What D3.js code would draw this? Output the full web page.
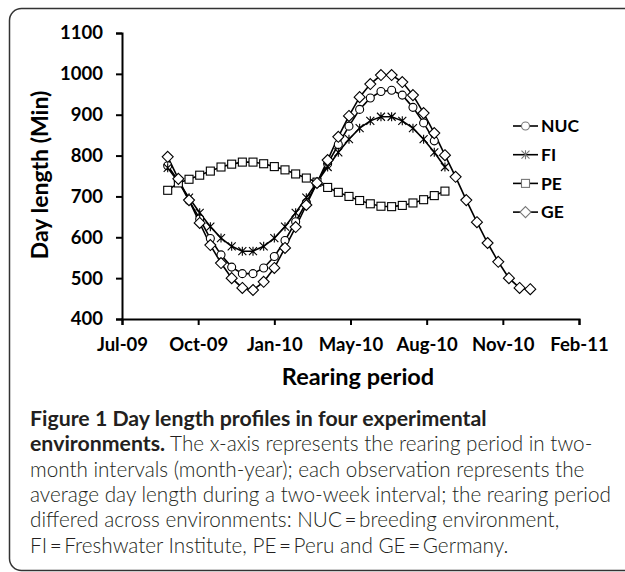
<!DOCTYPE html>
<html>
<head>
<meta charset="utf-8">
<script src="https://cdn.jsdelivr.net/npm/d3@7"></script>
<style>
  body { margin: 0; background: #fff; }
  svg { display: block; }
</style>
</head>
<body>
<svg id="chart" width="625" height="572"></svg>
<script>
// series names and start dates (one observation every two weeks)
var seriesNames = ["NUC", "FI", "PE", "GE"];
var seriesStart = "2009-09-04";

var nucValues = [775, 738, 690, 645, 597, 557, 527, 511, 511, 525, 553, 592, 638,
                 685, 733, 780, 827, 872, 913, 941, 957, 960, 948, 918, 880, 836];
var fiValues = [770, 735, 697, 660, 626, 598, 578, 566, 566, 578, 598, 626, 660, 697,
                735, 772, 808, 840, 867, 885, 895, 895, 885, 867, 840, 808, 772];
var peValues = [715, 733, 742, 752, 762, 772, 779, 784, 784, 780, 773, 765, 755, 745,
                735, 722, 710, 700, 690, 682, 676, 675, 678, 684, 692, 702, 713];
var geValues = [797, 743, 691, 635, 581, 537, 500, 476, 471, 491, 525, 574, 625, 679,
                733, 789, 846, 897, 943, 975, 997, 997, 980, 948, 904, 855, 801, 748,
                691, 637, 586, 540, 500, 476, 473];

var yTicks = [400, 500, 600, 700, 800, 900, 1000, 1100];
// excel serial 40000..40600 step 100
var xTickDates = ["2009-07-06", "2009-10-14", "2010-01-22", "2010-05-02",
                  "2010-08-10", "2010-11-18", "2011-02-26"];

var captionLines = [
  [["Figure 1 Day length profiles in four experimental", true]],
  [["environments.", true], [" The x-axis represents the rearing period in two-", false]],
  [["month intervals (month-year); each observation represents the", false]],
  [["average day length during a two-week interval; the rearing period", false]],
  [["differed across environments: NUC\u2009=\u2009breeding environment,", false]],
  [["FI\u2009=\u2009Freshwater Institute, PE\u2009=\u2009Peru and GE\u2009=\u2009Germany.", false]]
];

var parse = d3.utcParse("%Y-%m-%d");
var startDate = parse(seriesStart);
function toPoints(vals) {
  return vals.map(function(v, i) {
    return { date: d3.utcDay.offset(startDate, i * 14), value: v };
  });
}
var data = [nucValues, fiValues, peValues, geValues].map(toPoints);
var shapes = ["circle", "star", "square", "diamond"];

var svg = d3.select("#chart");
var chartFont = "Lato, 'DejaVu Sans', sans-serif";

// frame around figure
svg.append("rect")
    .attr("x", 9.5).attr("y", 8.5)
    .attr("width", 650).attr("height", 562)
    .attr("rx", 12)
    .attr("fill", "none")
    .attr("stroke", "#333")
    .attr("stroke-width", 1.5);

var xScale = d3.scaleUtc()
    .domain([parse(xTickDates[0]), parse(xTickDates[xTickDates.length - 1])])
    .range([122, 579]);

var yScale = d3.scaleLinear()
    .domain([400, 1100])
    .range([319, 33]);

var xAxis = d3.axisBottom(xScale)
    .tickValues(xTickDates.map(parse))
    .tickFormat(d3.utcFormat("%b-%y"))
    .tickSize(6)
    .tickPadding(13);

var yAxis = d3.axisLeft(yScale)
    .tickValues(yTicks)
    .tickFormat(d3.format("d"))
    .tickSize(6)
    .tickPadding(13);

var gx = svg.append("g")
    .attr("transform", "translate(0," + yScale(400) + ")")
    .call(xAxis);
var gy = svg.append("g")
    .attr("transform", "translate(" + xScale.range()[0] + ",0)")
    .call(yAxis);

[gx, gy].forEach(function(g) {
  g.select(".domain").attr("stroke", "#000").attr("stroke-width", 2);
  g.selectAll(".tick line").attr("stroke", "#000").attr("stroke-width", 2);
  g.selectAll("text")
    .attr("fill", "#000")
    .style("font-family", chartFont)
    .style("font-weight", 700)
    .style("font-size", "18.5px");
});

// axis titles
svg.append("text")
    .attr("transform", "translate(48,175) rotate(-90)")
    .attr("text-anchor", "middle")
    .style("font-family", chartFont)
    .style("font-weight", 700)
    .style("font-size", "23px")
    .text("Day length (Min)");

svg.append("text")
    .attr("x", 358).attr("y", 385)
    .attr("text-anchor", "middle")
    .style("font-family", chartFont)
    .style("font-weight", 700)
    .style("font-size", "23.5px")
    .text("Rearing period");

var line = d3.line()
    .x(function(d) { return xScale(d.date); })
    .y(function(d) { return yScale(d.value); });

function drawMarker(g, shape) {
  if (shape === "circle") {
    g.append("circle").attr("r", 4);
  } else if (shape === "square") {
    g.append("rect").attr("x", -4).attr("y", -4).attr("width", 8).attr("height", 8);
  } else if (shape === "diamond") {
    g.append("path").attr("d", "M0,-5.5L5.5,0L0,5.5L-5.5,0Z");
  } else {
    g.append("path").attr("d", "M-4,-4L4,4M-4,4L4,-4M0,-4.5L0,4.5");
  }
  g.attr("fill", "#fff").attr("stroke", "#000").attr("stroke-width", 1.1);
}

var plot = svg.append("g");
data.forEach(function(pts, si) {
  plot.append("path")
      .datum(pts)
      .attr("d", line)
      .attr("fill", "none")
      .attr("stroke", "#000")
      .attr("stroke-width", 1.6);
});
data.forEach(function(pts, si) {
  plot.append("g").selectAll("g")
      .data(pts)
      .join("g")
      .attr("transform", function(d) { return "translate(" + xScale(d.date) + "," + yScale(d.value) + ")"; })
      .each(function() { drawMarker(d3.select(this), shapes[si]); });
});

// legend
var legend = svg.append("g").attr("transform", "translate(513,126)");
seriesNames.forEach(function(name, i) {
  var row = legend.append("g").attr("transform", "translate(0," + (i * 28.7) + ")");
  row.append("line")
      .attr("x1", 0).attr("x2", 25)
      .attr("stroke", "#000").attr("stroke-width", 1.6);
  var m = row.append("g").attr("transform", "translate(12.5,0)");
  drawMarker(m, shapes[i]);
  m.attr("stroke", "#777");
  row.append("text")
      .attr("x", 28).attr("y", 0)
      .attr("dy", "0.35em")
      .style("font-family", chartFont)
      .style("font-weight", 700)
      .style("font-size", "17.5px")
      .text(name);
});

// caption
var cap = svg.append("g");
captionLines.forEach(function(parts, i) {
  var t = cap.append("text")
      .attr("x", 30)
      .attr("y", 426 + i * 25.3)
      .style("font-family", "Lato, 'Open Sans', sans-serif")
      .attr("fill", "#231f20");
  parts.forEach(function(p) {
    t.append("tspan")
        .style("font-weight", p[1] ? 700 : 300)
        .style("font-size", p[1] ? "21.3px" : "20.7px")
        .text(p[0]);
  });
});
</script>
</body>
</html>
